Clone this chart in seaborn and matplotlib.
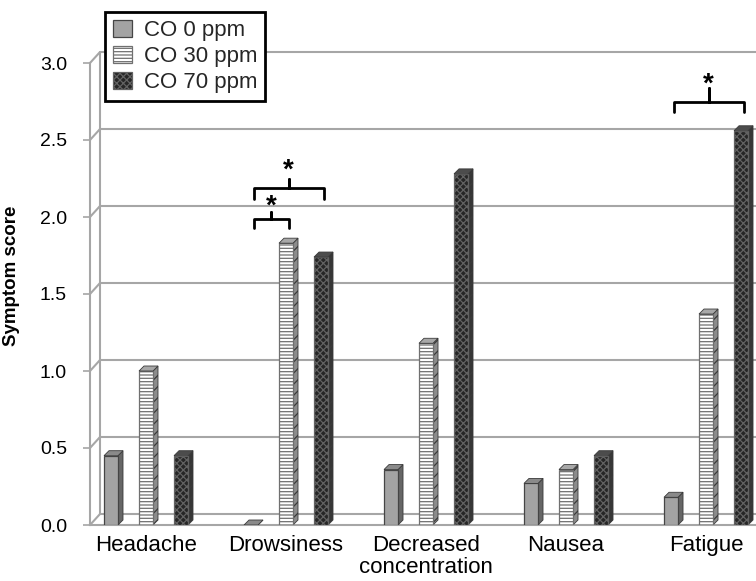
import numpy as np
import pandas as pd
import seaborn as sns
import matplotlib
matplotlib.use("Agg")
import matplotlib.pyplot as plt
import matplotlib.transforms as mtransforms
from matplotlib.patches import Patch, Polygon
from matplotlib.lines import Line2D

# ---------------- data ----------------
categories = ["Headache", "Drowsiness", "Decreased\nconcentration", "Nausea", "Fatigue"]
doses = ["CO 0 ppm", "CO 30 ppm", "CO 70 ppm"]
co0 = [0.45, 0.00, 0.36, 0.27, 0.18]
co30 = [1.00, 1.83, 1.18, 0.36, 1.37]
co70 = [0.45, 1.74, 2.28, 0.45, 2.56]
yticks = [0.0, 0.5, 1.0, 1.5, 2.0, 2.5, 3.0]
ytick_labels = ["0.0", "0.5", "1.0", "1.5", "2.0", "2.5", "3.0"]

df = pd.DataFrame({
    "symptom": categories * 3,
    "dose": [doses[0]] * 5 + [doses[1]] * 5 + [doses[2]] * 5,
    "score": co0 + co30 + co70,
})

# ---------------- style ----------------
sns.set_theme(style="white")
plt.rcParams["font.family"] = ["Liberation Sans", "DejaVu Sans"]
plt.rcParams["hatch.linewidth"] = 0.9

styles = [
    dict(face="#a3a3a3", edge="#454545", hatch=None, side="#666666", top="#8a8a8a"),
    dict(face="#ffffff", edge="#707070", hatch="-----", side="#8c8c8c", top="#a8a8a8"),
    dict(face="#262626", edge="#626262", hatch="xxxxx", side="#363636", top="#4c4c4c"),
]

W, H = 756, 581
fig = plt.figure(figsize=(W / 100, H / 100), dpi=100)
ax = fig.add_axes([90 / W, 56 / H, 666 / W, 462 / H])

sns.barplot(data=df, x="symptom", y="score", hue="dose", order=categories,
            hue_order=doses, width=0.75, gap=0.6, ax=ax, legend=False,
            palette=[s["face"] for s in styles], saturation=1, errorbar=None)

ax.set_xlim(-0.4, 4.357)
ax.set_ylim(0, 3)

# pixel -> data conversions
p00 = ax.transData.transform((0, 0))
px_x = ax.transData.transform((1, 0))[0] - p00[0]
px_y = ax.transData.transform((0, 1))[1] - p00[1]
dx = 5 / px_x
dy = 5 / px_y

for cont, st in zip(ax.containers, styles):
    for bar in cont.patches:
        bar.set_facecolor(st["face"])
        bar.set_edgecolor(st["edge"])
        bar.set_linewidth(0.9)
        if st["hatch"]:
            bar.set_hatch(st["hatch"])
        bar.set_zorder(3)
        x, w, h = bar.get_x(), bar.get_width(), bar.get_height()
        side = Polygon([(x + w, 0), (x + w + dx, dy), (x + w + dx, h + dy), (x + w, h)],
                       closed=True, facecolor=st["side"], edgecolor="#3a3a3a",
                       linewidth=0.6, hatch=("///" if st["hatch"] else None), zorder=2.9)
        top = Polygon([(x, h), (x + w, h), (x + w + dx, h + dy), (x + dx, h + dy)],
                      closed=True, facecolor=st["top"], edgecolor="#3a3a3a",
                      linewidth=0.6, zorder=3.1)
        ax.add_patch(side)
        ax.add_patch(top)

# ---------------- 3D-like walls / gridlines ----------------
grid_c = "#a6a6a6"
ident = mtransforms.IdentityTransform()
off_x, off_y = 10, 11
ytr = ax.get_yaxis_transform()
right_px = ax.transAxes.transform((1, 0))[0] + 20
for t in yticks:
    p = ytr.transform((0, t))
    ax.add_line(Line2D([p[0], p[0] + off_x, right_px], [p[1], p[1] + off_y, p[1] + off_y],
                       transform=ident, color=grid_c, lw=1.5, zorder=0.5, clip_on=False))
pb = ytr.transform((0, 0))
pt = ytr.transform((0, 3))
ax.add_line(Line2D([pb[0] + off_x, pt[0] + off_x], [pb[1] + off_y, pt[1] + off_y],
                   transform=ident, color=grid_c, lw=1.5, zorder=0.5, clip_on=False))

for s in ["top", "right"]:
    ax.spines[s].set_visible(False)
for s in ["left", "bottom"]:
    ax.spines[s].set_color(grid_c)
    ax.spines[s].set_linewidth(1.5)

ax.set_yticks(yticks, ytick_labels)
ax.tick_params(axis="y", left=True, length=5, width=1.2, color=grid_c, pad=11.5,
               labelsize=14, labelcolor="black")
ax.tick_params(axis="x", bottom=False, length=0, pad=7, labelsize=16, labelcolor="black")
for lbl in ax.get_xticklabels():
    lbl.set_linespacing(1.05)
ax.set_xlabel("")
ax.set_ylabel("Symptom score", fontsize=13.5, fontweight="bold", color="black")
ax.yaxis.set_label_coords(-0.105, 0.54)

# ---------------- significance braces ----------------
def center(ci, k):
    b = ax.containers[ci].patches[k]
    return b.get_x() + b.get_width() / 2 + dx / 2

def brace(x1, x2, y_h, y_end, y_peak, y_star):
    xm = (x1 + x2) / 2
    ax.plot([x1, x1, xm, xm, xm, x2, x2], [y_end, y_h, y_h, y_peak, y_h, y_h, y_end],
            color="black", lw=2, solid_joinstyle="round", zorder=5, clip_on=False)
    ax.text(xm, y_star, "*", ha="center", va="center", fontsize=20,
            fontweight="bold", color="black", zorder=5)

brace(center(0, 1), center(1, 1), 1.99, 1.93, 2.03, 2.07)
brace(center(0, 1), center(2, 1), 2.19, 2.12, 2.25, 2.30)
brace(center(0, 4), center(2, 4), 2.75, 2.68, 2.84, 2.86)

# ---------------- legend ----------------
handles = [Patch(facecolor=s["face"], edgecolor=s["edge"], hatch=s["hatch"], linewidth=0.9)
           for s in styles]
leg = ax.legend(handles, doses, loc="upper left", bbox_to_anchor=(105 / W, 1 - 12 / H),
                bbox_transform=fig.transFigure, fontsize=16, frameon=True, fancybox=False,
                edgecolor="black", framealpha=1, borderaxespad=0, handlelength=0.85,
                handleheight=0.85, handletextpad=0.55, labelspacing=0.2, borderpad=0.35)
leg.get_frame().set_linewidth(2)
leg.set_zorder(10)

fig.savefig("out.png", dpi=100, facecolor="white")
